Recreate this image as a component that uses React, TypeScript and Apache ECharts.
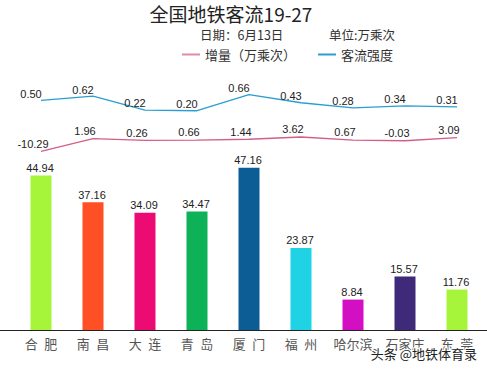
import React, { useEffect, useRef } from "react";
import * as echarts from "echarts";

const categories = ["合肥", "南昌", "大连", "青岛", "厦门", "福州", "哈尔滨", "石家庄", "东莞"];
const passengerFlow = [44.94, 37.16, 34.09, 34.47, 47.16, 23.87, 8.84, 15.57, 11.76];
const increment = [-10.29, 1.96, 0.26, 0.66, 1.44, 3.62, 0.67, -0.03, 3.09];
const intensity = [0.5, 0.62, 0.22, 0.2, 0.66, 0.43, 0.28, 0.34, 0.31];
const barColors = ["#a6f53a", "#ff4f24", "#ec0a73", "#0db157", "#0c5c96", "#1fd3e5", "#d30fc3", "#3f2a7a", "#a6f53a"];

const titleText = "全国地铁客流19-27";
const dateText = "日期：6月13日";
const unitText = "单位:万乘次";
const seriesNames = ["增量（万乘次）", "客流强度"];
const watermark = "头条 @地铁体育录";

const FONT = "'Noto Sans CJK SC', 'Liberation Sans', sans-serif";
const NUMFONT = "'Liberation Sans', Arial, sans-serif";

export default function App() {
  const ref = useRef<HTMLDivElement>(null);
  useEffect(() => {
    document.body.style.margin = "0";
    const chart = echarts.init(ref.current!, null, { renderer: "svg" });
    const hiddenX = (gi: number) => ({
      type: "category",
      gridIndex: gi,
      data: categories,
      show: false,
    });
    const hiddenY = (gi: number, min: number, max: number) => ({
      type: "value",
      gridIndex: gi,
      min,
      max,
      show: false,
      splitLine: { show: false },
    });
    const numLabel = (dist: number, offset: number[]) => ({
      show: true,
      position: "top",
      distance: dist,
      offset,
      fontSize: 11,
      fontFamily: NUMFONT,
      color: "#222",
      formatter: (p: any) => Number(p.value).toFixed(2),
    });
    chart.setOption({
      animation: false,
      backgroundColor: "#fff",
      grid: [
        { left: 15, right: 4, top: 158, bottom: 39 },
        { left: 15, right: 4, top: 82.9, height: 34.8 },
        { left: 15, right: 4, top: 136.6, height: 16.5 },
      ],
      xAxis: [
        {
          type: "category",
          gridIndex: 0,
          data: categories,
          axisLine: { show: false },
          axisTick: { show: false },
          axisLabel: {
            interval: 0,
            margin: 7,
            fontSize: 13,
            fontFamily: FONT,
            color: "#555",
            formatter: (v: string) => (v.length === 2 ? v.split("").join("\u2002") : v),
          },
        },
        hiddenX(1),
        hiddenX(2),
      ],
      yAxis: [hiddenY(0, 0, 50), hiddenY(1, 0, 1), hiddenY(2, -12, 4)],
      legend: {
        left: 177,
        top: 43,
        itemWidth: 18,
        itemHeight: 2,
        itemGap: 22,
        icon: "rect",
        textStyle: { fontSize: 13, fontFamily: FONT, color: "#333" },
        data: seriesNames,
      },
      series: [
        {
          type: "bar",
          xAxisIndex: 0,
          yAxisIndex: 0,
          barWidth: 21,
          data: passengerFlow.map((v, i) => ({ value: v, itemStyle: { color: barColors[i] } })),
          label: numLabel(2, [-1, 0]),
        },
        {
          name: seriesNames[1],
          type: "line",
          xAxisIndex: 1,
          yAxisIndex: 1,
          data: intensity,
          symbol: "circle",
          symbolSize: 0.1,
          showSymbol: true,
          lineStyle: { color: "#2a9ed0", width: 1.3 },
          itemStyle: { color: "#2a9ed0" },
          label: numLabel(1, [-10, 0]),
        },
        {
          name: seriesNames[0],
          type: "line",
          xAxisIndex: 2,
          yAxisIndex: 2,
          data: increment,
          symbol: "circle",
          symbolSize: 0.1,
          showSymbol: true,
          lineStyle: { color: "#d45d8a", width: 1.3 },
          itemStyle: { color: "#e08aa8" },
          label: numLabel(2, [-8, 0]),
        },
      ],
      graphic: [
        {
          type: "line",
          shape: { x1: 0, y1: 330.5, x2: 487, y2: 330.5 },
          style: { stroke: "#222", lineWidth: 1 },
        },
        {
          type: "text",
          x: 231,
          y: 13,
          style: {
            text: titleText,
            fontSize: 19,
            fontFamily: FONT,
            fill: "#222",
            align: "center",
            verticalAlign: "middle",
          },
        },
        {
          type: "text",
          x: 200,
          y: 34,
          style: { text: dateText, fontSize: 12.5, fontFamily: FONT, fill: "#333", verticalAlign: "middle" },
        },
        {
          type: "text",
          x: 329,
          y: 34,
          style: { text: unitText, fontSize: 12.5, fontFamily: FONT, fill: "#333", verticalAlign: "middle" },
        },
        {
          type: "text",
          x: 477,
          y: 353,
          z: 100,
          style: {
            text: watermark,
            fontSize: 13,
            fontFamily: FONT,
            fill: "#222",
            stroke: "#fff",
            lineWidth: 2,
            align: "right",
            verticalAlign: "middle",
          },
        },
      ],
    });
    return () => chart.dispose();
  }, []);
  return <div ref={ref} style={{ width: 487, height: 369 }} />;
}
